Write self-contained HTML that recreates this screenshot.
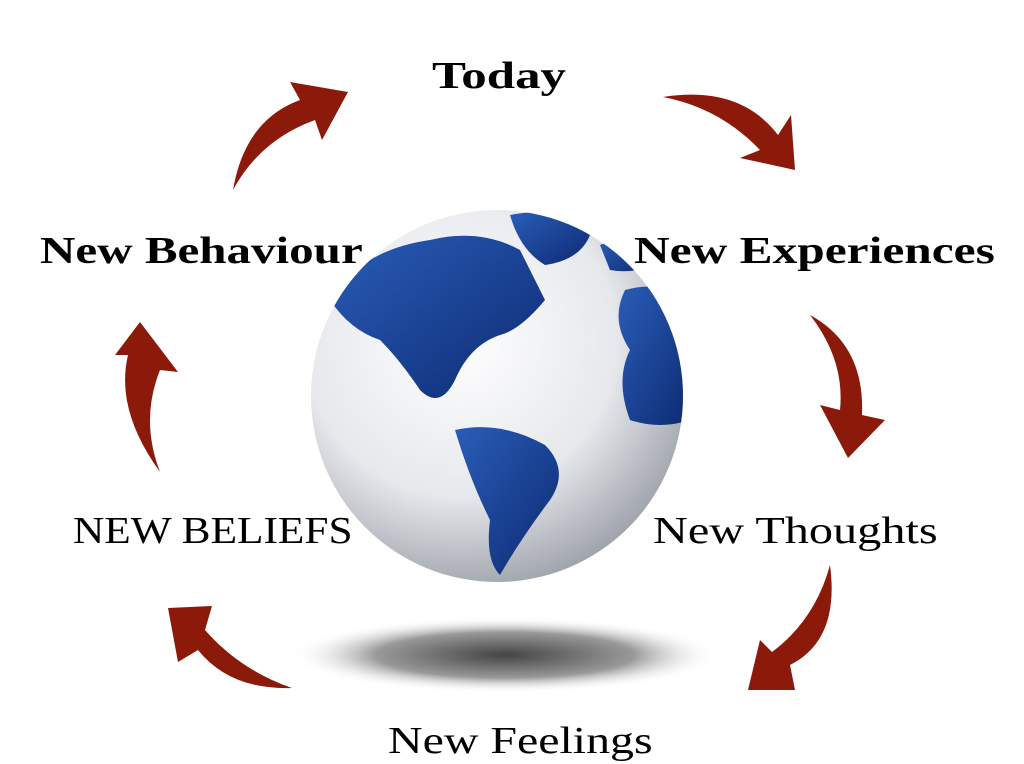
<!DOCTYPE html>
<html><head><style>
html,body{margin:0;padding:0;background:#fff;}
body{width:1024px;height:764px;position:relative;overflow:hidden;font-family:"Liberation Serif",serif;}
.t{position:absolute;white-space:nowrap;color:#000;font-size:38px;line-height:1;transform-origin:0 0;}
.b{font-weight:bold;}
</style></head><body>
<svg width="1024" height="764" style="position:absolute;left:0;top:0">
<defs>
<radialGradient id="g" cx="0.4" cy="0.35" r="0.7">
<stop offset="0" stop-color="#ffffff"/><stop offset="0.6" stop-color="#e6e8ec"/><stop offset="1" stop-color="#9a9ea6"/>
</radialGradient>
<radialGradient id="s" cx="0.5" cy="0.5" r="0.5">
<stop offset="0" stop-color="#444"/><stop offset="0.6" stop-color="#999"/><stop offset="1" stop-color="#fff" stop-opacity="0"/>
</radialGradient>
<linearGradient id="bl" x1="0" y1="0" x2="1" y2="1"><stop offset="0" stop-color="#2a5db8"/><stop offset="1" stop-color="#0d2a72"/></linearGradient>
<clipPath id="c"><circle cx="497" cy="396" r="186"/></clipPath>
</defs>
<ellipse cx="505" cy="655" rx="215" ry="38" fill="url(#s)"/>
<circle cx="497" cy="396" r="186" fill="url(#g)"/>
<g clip-path="url(#c)" fill="url(#bl)">
<path d="M330,300 Q360,250 430,240 Q480,228 520,250 L545,300 Q520,330 500,335 Q470,345 455,380 Q440,410 420,390 Q400,360 380,340 Q350,330 330,300 Z"/>
<path d="M510,215 Q560,205 590,235 Q580,260 545,265 Q520,250 510,215 Z"/>
<path d="M455,430 Q500,420 545,445 Q570,470 550,500 Q520,540 500,575 Q485,560 490,520 Q470,480 455,430 Z"/>
<path d="M625,290 Q660,280 690,300 L690,420 Q660,430 630,420 Q615,380 630,350 Q610,320 625,290 Z"/>
<path d="M600,245 Q640,230 660,260 Q640,275 610,270 Z"/>
</g>
<g fill="#8b1a0a">
<path d="M663,97 Q740,85 778,135 L791,115 L795,170 L740,158 L760,150 Q720,108 663,97 Z"/>
<path d="M810,315 Q865,345 862,415 L885,420 L848,458 L820,405 L840,410 Q845,360 810,315 Z"/>
<path d="M830,565 Q840,640 790,665 L795,690 L748,690 L760,640 L772,652 Q815,620 830,565 Z"/>
<path d="M292,688 Q230,690 198,650 L178,662 L168,608 L212,606 L205,630 Q240,670 292,688 Z"/>
<path d="M160,472 Q115,410 128,355 L115,355 L140,322 L178,372 L160,370 Q140,420 160,472 Z"/>
<path d="M233,190 Q245,120 300,100 L290,82 L348,92 L322,140 L315,120 Q260,140 233,190 Z"/>
</g>
</svg>
<div class="t b" style="left:432px;top:57px;transform:scaleX(1.34)">Today</div>
<div class="t b" style="left:40px;top:232px;transform:scaleX(1.29)">New Behaviour</div>
<div class="t b" style="left:634px;top:232px;transform:scaleX(1.30)">New Experiences</div>
<div class="t" style="left:73px;top:512px;transform:scaleX(1.14)">NEW BELIEFS</div>
<div class="t" style="left:653px;top:512px;transform:scaleX(1.27)">New Thoughts</div>
<div class="t" style="left:388px;top:722px;transform:scaleX(1.26)">New Feelings</div>
</body></html>
